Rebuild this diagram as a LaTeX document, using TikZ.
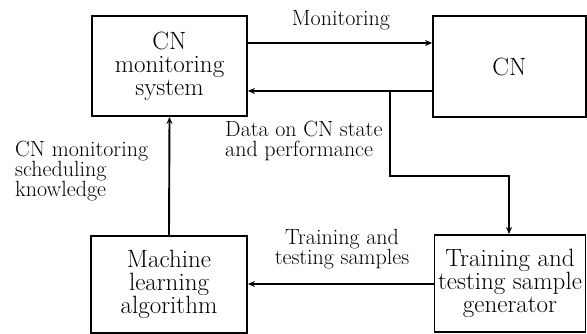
\documentclass[tikz,border=0pt]{standalone}
\usepackage{fontspec}
\usetikzlibrary{arrows.meta}
\begin{document}
\begin{tikzpicture}[x=1pt,y=-1pt,
  box/.style={draw,line width=1.9pt,align=center,inner sep=0pt,font=\fontsize{25}{23}\selectfont},
  lbl/.style={inner sep=0pt,font=\fontsize{22}{20}\selectfont},
  arr/.style={line width=1.9pt,-{Stealth[length=7pt,width=6pt]}}]
\useasboundingbox (0,0) rectangle (587,334);
\node[box,minimum width=155pt,minimum height=100pt] (A) at (169.5,66) {CN\\monitoring\\system};
\node[box,minimum width=153pt,minimum height=101pt] (C) at (509.5,66.5) {CN};
\node[box,minimum width=156pt,minimum height=97pt] (M) at (169,284.5) {Machine\\learning\\algorithm};
\node[box,minimum width=151pt,minimum height=97pt] (T) at (510,283.5) {Training and\\testing sample\\generator};
\coordinate (m) at (0,43);
\coordinate (d) at (0,91);
\coordinate (br) at (390,91);
\coordinate (c2) at (509,176);
\coordinate (t) at (0,284);
\draw[arr] (A.east |- m) -- (C.west |- m);
\draw[arr] (C.west |- d) -- (A.east |- d);
\draw[arr] (br) |- (c2) -- (c2 |- T.north);
\draw[arr] (M.north) -- (A.south);
\draw[arr] (T.west |- t) -- (M.east |- t);
\node[lbl] (lm) at (341,20) {Monitoring};
\node[lbl,align=left,anchor=west] (ld) at (225,141) {Data on CN state\\and performance};
\node[lbl,align=left,anchor=west] (lk) at (15,171) {CN monitoring\\scheduling\\knowledge};
\node[lbl,align=center] (lt) at (342,249) {Training and\\testing samples};
\end{tikzpicture}
\end{document}
